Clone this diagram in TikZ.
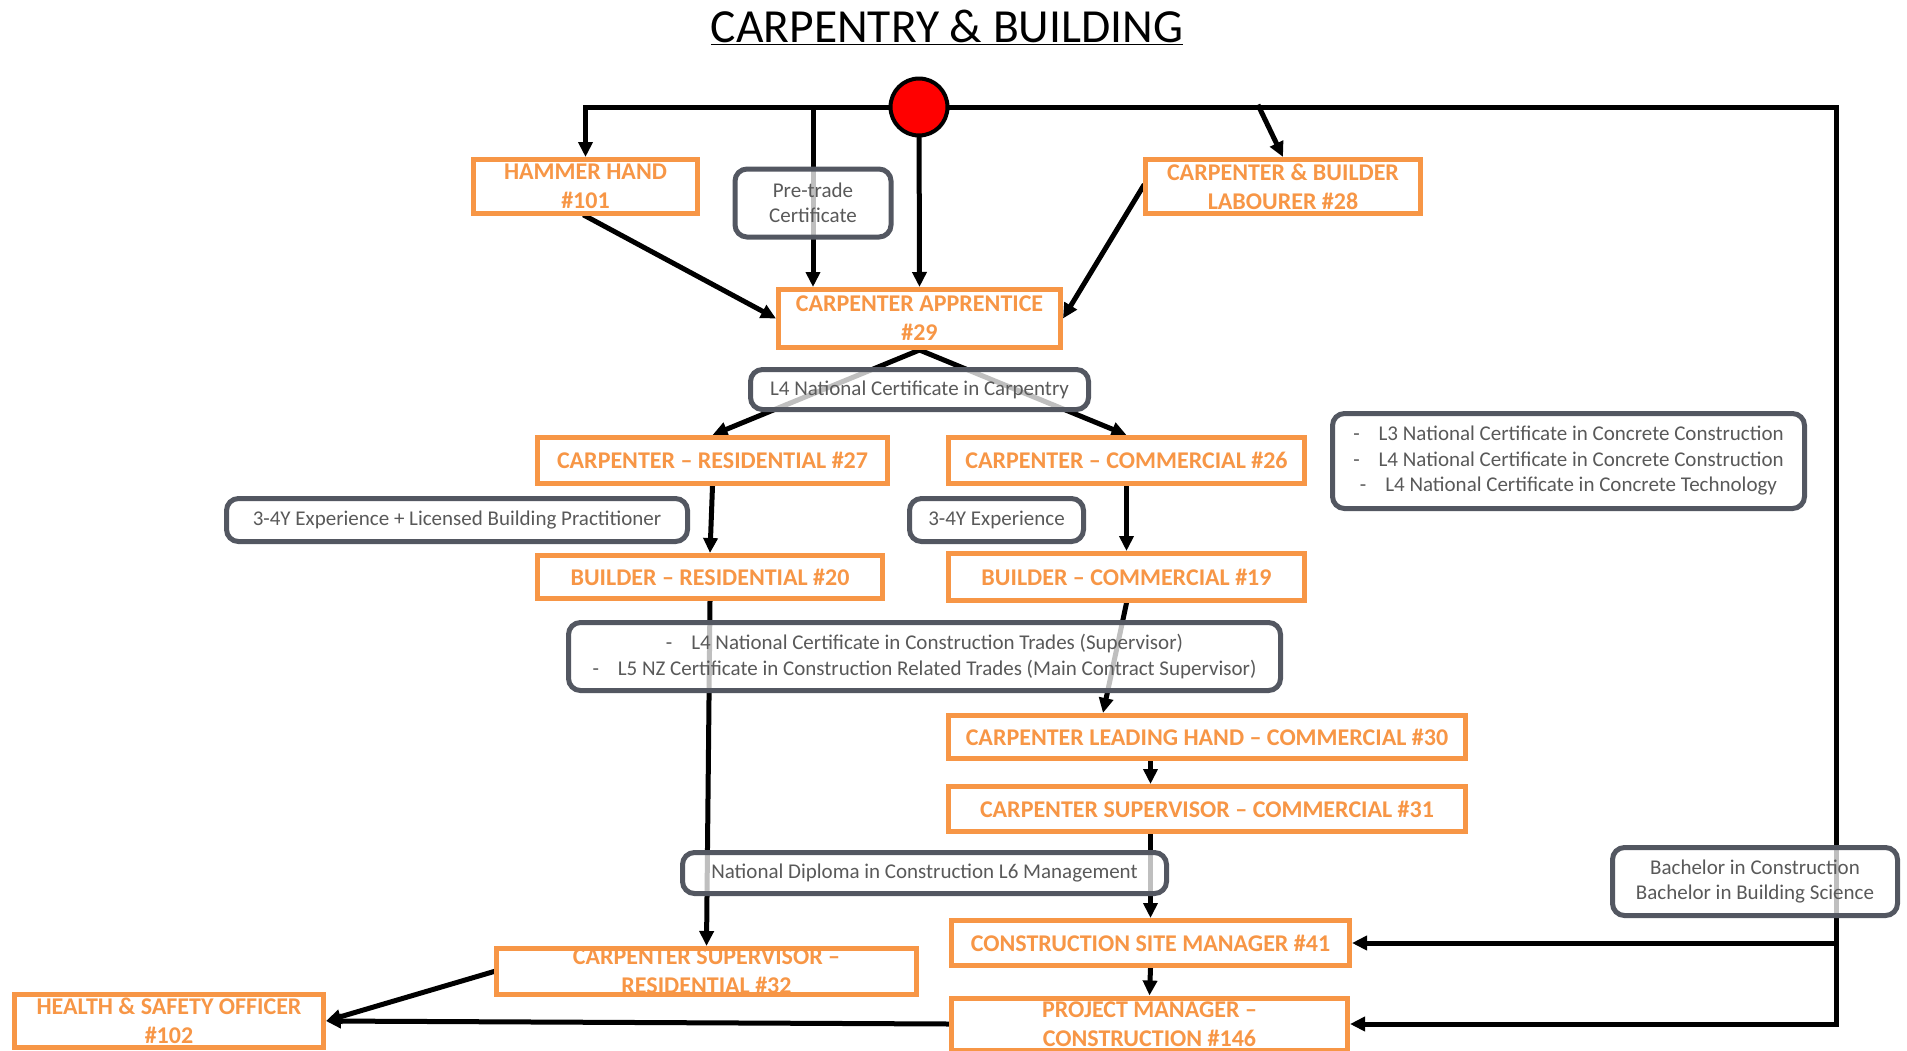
\documentclass[tikz,border=0pt]{standalone}
\usepackage{fontspec}
\setmainfont{Carlito}
\usepackage{tikz}
\usetikzlibrary{arrows.meta, backgrounds}
\usepackage{xcolor}
\definecolor{joborange}{HTML}{F79646}
\definecolor{qualedge}{HTML}{535761}
\definecolor{qualtext}{HTML}{595959}

\begin{document}
\begin{tikzpicture}[x=1pt, y=-1pt,
    job/.style={draw=joborange, line width=5pt, fill=white, text=joborange,
        font=\fontsize{24}{29}\selectfont\bfseries, align=center, inner sep=0pt},
    qual/.style={draw=qualedge, line width=5pt, rounded corners=12pt, fill=white,
        fill opacity=0.75, text opacity=1, text=qualtext,
        font=\fontsize{21}{25.5}\selectfont, align=center, inner sep=0pt},
    link/.style={-{Triangle[length=15pt, width=14pt]}, line width=5pt, line cap=rect},
    wire/.style={line width=5pt, line cap=rect}]
    \useasboundingbox (0,0) rectangle (1907,1050);

    % title
    \node[anchor=base] (title) at (947,42) {\fontsize{47.5}{52}\selectfont\underline{CARPENTRY \& BUILDING}};

    % start
    \node[circle, draw=black, line width=4pt, fill=red, minimum size=57pt, inner sep=0pt] (start) at (919,107) {};
    \coordinate (barR) at (1836,107);
    \coordinate (labtap) at (1259,107);

    % jobs
    \node[job, minimum width=224, minimum height=54] (hammer) at (585.5,186.5) {HAMMER HAND\\\#101};
    \node[job, minimum width=275, minimum height=54] (labourer) at (1283,186.5) {CARPENTER \& BUILDER\\LABOURER \#28};
    \node[job, minimum width=282, minimum height=58] (apprentice) at (919.5,318.5) {CARPENTER APPRENTICE\\\#29};
    \node[job, minimum width=350, minimum height=46] (res27) at (712.5,460.5) {CARPENTER -- RESIDENTIAL \#27};
    \node[job, minimum width=356, minimum height=46] (com26) at (1126.5,460.5) {CARPENTER -- COMMERCIAL \#26};
    \node[job, minimum width=345, minimum height=43] (bres20) at (710,577) {BUILDER -- RESIDENTIAL \#20};
    \node[job, minimum width=356, minimum height=47] (bcom19) at (1126.5,577) {BUILDER -- COMMERCIAL \#19};
    \node[job, minimum width=517, minimum height=43] (lead30) at (1207,737) {CARPENTER LEADING HAND -- COMMERCIAL \#30};
    \node[job, minimum width=517, minimum height=45] (sup31) at (1207,809) {CARPENTER SUPERVISOR -- COMMERCIAL \#31};
    \node[job, minimum width=398, minimum height=45] (site41) at (1150.5,943) {CONSTRUCTION SITE MANAGER \#41};
    \node[job, minimum width=396, minimum height=52] (pm146) at (1149.5,1024) {PROJECT MANAGER --\\CONSTRUCTION \#146};
    \node[job, minimum width=420, minimum height=46] (csres32) at (706.5,971.5) {CARPENTER SUPERVISOR --\\RESIDENTIAL \#32};
    \node[job, minimum width=309, minimum height=53] (hs102) at (169,1021) {HEALTH \& SAFETY OFFICER\\\#102};

    % qualifications
    \node[qual, minimum width=156, minimum height=68] (pretrade) at (813,203) {Pre-trade\\Certificate};
    \node[qual, minimum width=338, minimum height=40] (l4carp) at (919.5,389.5) {L4 National Certificate in Carpentry};
    \node[qual, minimum width=472, minimum height=95] (concrete) at (1568.5,461) {-\hspace{0.9em}L3 National Certificate in Concrete Construction\\-\hspace{0.9em}L4 National Certificate in Concrete Construction\\-\hspace{0.9em}L4 National Certificate in Concrete Technology};
    \node[qual, minimum width=461, minimum height=43] (explbp) at (457,520) {3-4Y Experience + Licensed Building Practitioner};
    \node[qual, minimum width=174, minimum height=43] (exp) at (996.5,520) {3-4Y Experience};
    \node[qual, minimum width=712, minimum height=68] (trades) at (924.5,656.5) {-\hspace{0.9em}L4 National Certificate in Construction Trades (Supervisor)\\-\hspace{0.9em}L5 NZ Certificate in Construction Related Trades (Main Contract Supervisor)};
    \node[qual, minimum width=484, minimum height=41] (diploma) at (924.5,873) {National Diploma in Construction L6 Management};
    \node[qual, minimum width=285, minimum height=68] (bachelor) at (1755,881.5) {Bachelor in Construction\\Bachelor in Building Science};

    % paths
    \begin{scope}[on background layer]
        \draw[wire] (hammer.north |- start) -- (barR) -- (barR |- pm146.east);
        \draw[link] (hammer.north |- start) -- (hammer.north);
        \draw[link] (pretrade.north |- start) -- (pretrade.south |- apprentice.north);
        \draw[link] (start) -- (apprentice.north);
        \draw[link] (labtap) -- (labourer.north);
        \draw[link] (hammer.south) -- (apprentice.west);
        \draw[link] (labourer.west) -- (apprentice.east);
        \draw[link] (apprentice.south) -- (res27.north);
        \draw[link] (apprentice.south) -- (com26.north);
        \draw[link] (res27.south) -- (bres20.north);
        \draw[link] (com26.south) -- (bcom19.north);
        \draw[link] (bres20.south) -- (csres32.north);
        \draw[link] (bcom19.south) -- ([xshift=-104pt]lead30.north);
        \draw[link] (site41.north |- lead30.south) -- (site41.north |- sup31.north);
        \draw[link] (site41.north |- sup31.south) -- (site41.north);
        \draw[link] (site41.south) -- (pm146.north);
        \draw[link] (barR |- site41.east) -- (site41.east);
        \draw[link] (barR |- pm146.east) -- (pm146.east);
        \draw[link] (csres32.west) -- (hs102.east);
        \draw[link] (pm146.west) -- (hs102.east);
    \end{scope}
\end{tikzpicture}
\end{document}
